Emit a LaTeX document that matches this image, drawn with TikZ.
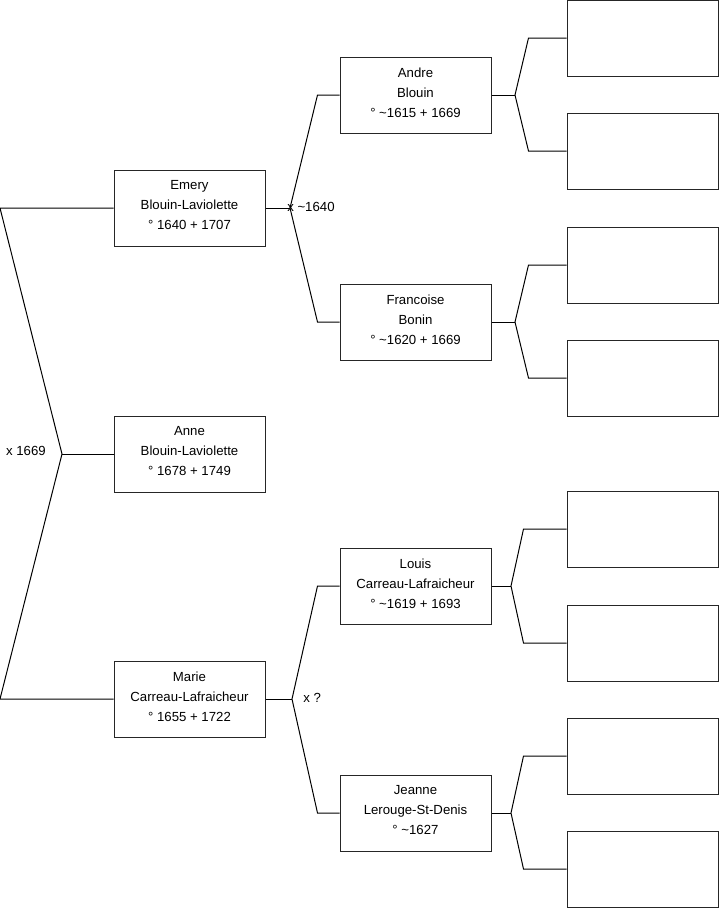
\documentclass[tikz,border=0pt]{standalone}
\usepackage{fontspec}
\setmainfont{Liberation Sans}
\usetikzlibrary{calc}

\tikzset{
    person/.style={draw=black!85, line width=0.75pt, minimum width=113.25pt, minimum height=57pt, inner sep=0pt, text depth=3.9pt, align=center, font=\fontsize{9.9}{15}\selectfont},
    wed/.style={font=\fontsize{9.9}{11}\selectfont, inner sep=0pt},
    link/.style={black, line width=0.75pt}
}

\begin{document}
\begin{tikzpicture}[x=0.75pt, y=-0.75pt]
    \useasboundingbox (0,0) rectangle (719,908);
    % Generation 1
    \node[person] (anne) at (189.5,454) {Anne\\Blouin-Laviolette\\° 1678 + 1749};
    % Generation 2
    \node[person] (emery) at (189.5,208) {Emery\\Blouin-Laviolette\\° 1640 + 1707};
    \node[person] (marie) at (189.5,699) {Marie\\Carreau-Lafraicheur\\° 1655 + 1722};
    % Generation 3
    \node[person] (andre) at (415.5,95) {Andre\\Blouin\\° \textasciitilde1615 + 1669};
    \node[person] (francoise) at (415.5,322) {Francoise\\Bonin\\° \textasciitilde1620 + 1669};
    \node[person] (louis) at (415.5,586) {Louis\\Carreau-Lafraicheur\\° \textasciitilde1619 + 1693};
    \node[person] (jeanne) at (415.5,813) {Jeanne\\Lerouge-St-Denis\\° \textasciitilde1627};
    % Generation 4 (empty)
    \foreach \n/\y in {e1/38, e2/151, e3/265, e4/378, e5/529, e6/643, e7/756, e8/869}
        \node[person] (\n) at (642.5,\y) {};
    % Junctions
    \coordinate (top) at (0,208);
    \coordinate (bot) at (0,699);
    \coordinate (jAnne) at (62,454);
    \coordinate (jEmery) at (290,208);
    \coordinate (jMarie) at (292,699);
    \coordinate (jAndre) at (515,95);
    \coordinate (jFrancoise) at (515,322);
    \coordinate (jLouis) at (511,586);
    \coordinate (jJeanne) at (511,813);
    % Marriages
    \node[wed, anchor=east] (w1) at (46,451) {x 1669};
    \node[wed, anchor=west] (w2) at (287,207) {x \textasciitilde1640};
    \node[wed, anchor=west] (w3) at (303,698) {x ?};
    % Links
    \draw[link] (emery.west) -- (top) -- (jAnne) -- (bot) -- (marie.west);
    \draw[link] (jAnne) -- (anne.west);
    \draw[link] (emery.east) -- (jEmery);
    \draw[link] (andre.west) -- ++(-22,0) -- (jEmery) -- ($(francoise.west)+(-22,0)$) -- (francoise.west);
    \draw[link] (marie.east) -- (jMarie);
    \draw[link] (louis.west) -- ++(-22,0) -- (jMarie) -- ($(jeanne.west)+(-22,0)$) -- (jeanne.west);
    \foreach \p/\j/\a/\b/\d in {andre/jAndre/e1/e2/38, francoise/jFrancoise/e3/e4/38, louis/jLouis/e5/e6/43, jeanne/jJeanne/e7/e8/43} {
        \draw[link] (\p.east) -- (\j);
        \draw[link] (\a.west) -- ++(-\d,0) -- (\j) -- ($(\b.west)+(-\d,0)$) -- (\b.west);
    }
\end{tikzpicture}
\end{document}
